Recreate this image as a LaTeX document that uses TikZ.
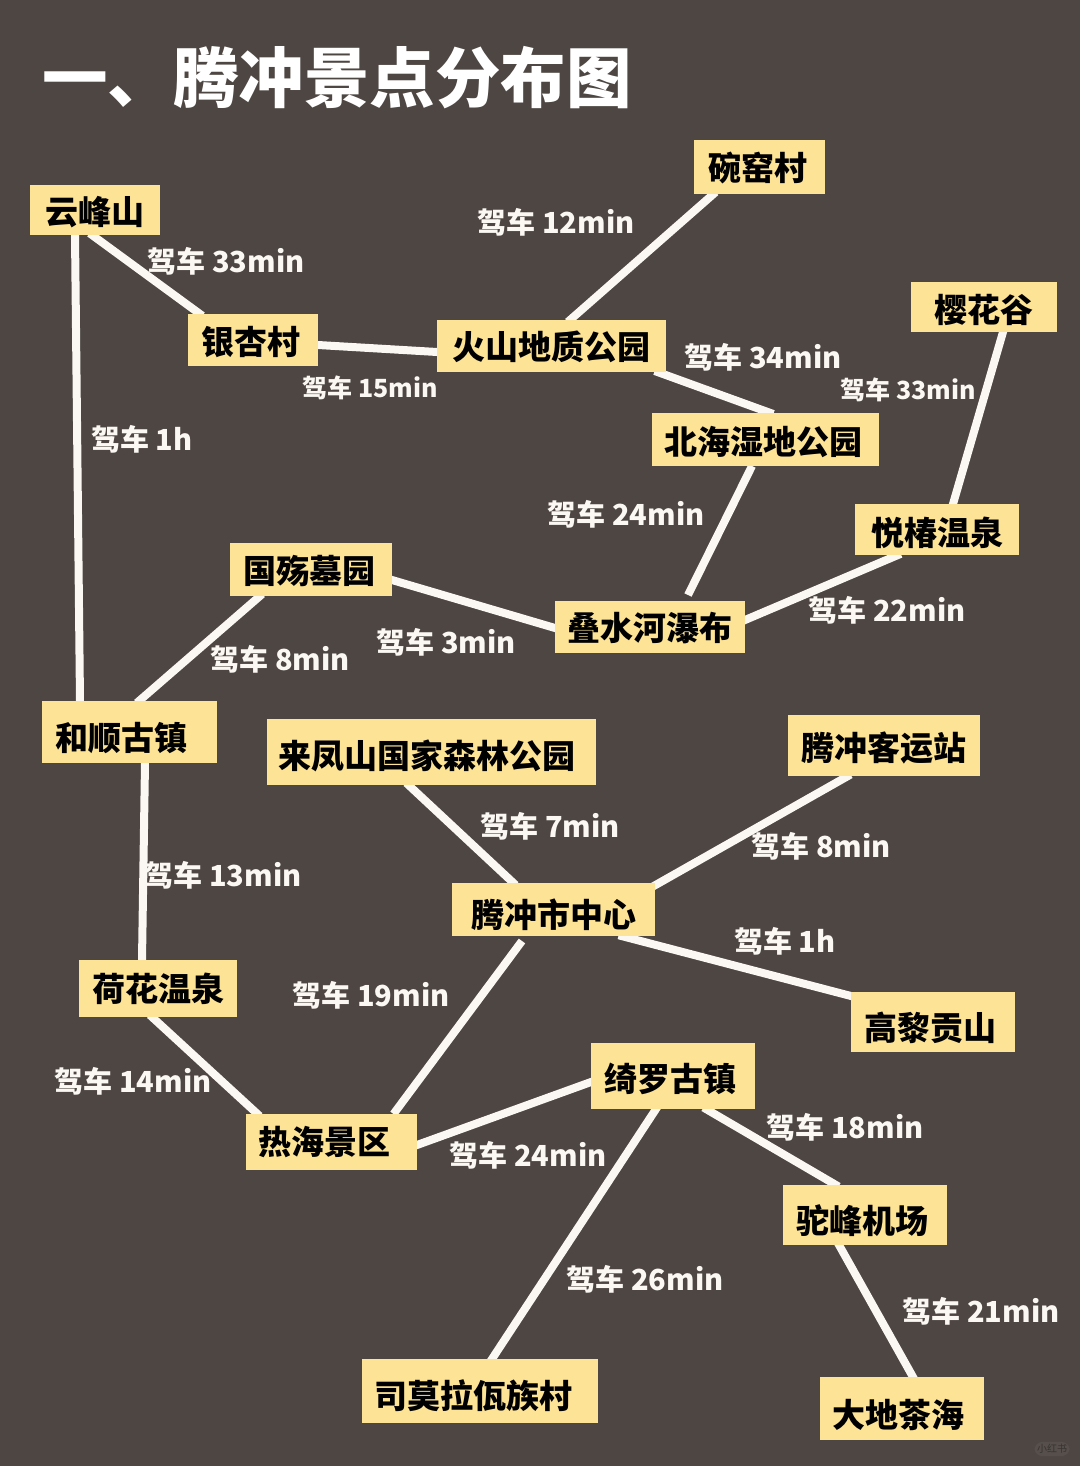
\documentclass[tikz,border=0pt]{standalone}
\usepackage{fontspec}
\setmainfont{Noto Sans CJK SC}
\usetikzlibrary{backgrounds}
\definecolor{bgc}{HTML}{4D4642}
\definecolor{boxc}{HTML}{FDE396}
\definecolor{linec}{HTML}{FBF7F2}
\tikzset{
  spot/.style={fill=boxc,draw=none,inner sep=0pt,text=black,font=\bfseries\fontsize{33}{34}\selectfont},
  lab/.style={inner sep=0pt,text=linec,font=\bfseries\fontsize{29}{30}\selectfont},
  labs/.style={inner sep=0pt,text=linec,font=\bfseries\fontsize{25}{26}\selectfont},
  titlet/.style={inner sep=0pt,anchor=west,text=white,font=\bfseries\fontsize{65.5}{68}\selectfont},
  link/.style={draw=linec,line width=8pt,shorten <=-3pt,shorten >=-3pt},
  markw/.style={inner sep=2.5pt,rounded corners=8pt,fill=white,fill opacity=0.05,text=black,text opacity=0.35,font=\fontsize{10}{11}\selectfont}
}
% name, cx, cy, w, h, dx, dy, text
\newcommand{\spotnode}[8]{\node[spot,minimum width=#4pt,minimum height=#5pt] (#1) at (#2,#3) {\pgfmathsetlengthmacro{\kx}{2*(#6)}\pgfmathsetlengthmacro{\ky}{-12.6-(#7)}\raisebox{\ky}[0pt][0pt]{\makebox[0pt]{\kern\kx\relax #8}}};}
\newcommand{\conn}[6]{\draw[link] ([shift={(#2,#3)}]#1.center) -- ([shift={(#5,#6)}]#4.center);}
\begin{document}
\begin{tikzpicture}[x=1pt,y=-1pt]
\useasboundingbox (0,0) rectangle (1080,1466);
\node[titlet] (title) at (42,78) {一、腾冲景点分布图};
\spotnode{yf}{95}{210}{130}{50}{0}{2}{云峰山}
\spotnode{wy}{759.5}{167}{131}{54}{-2}{1}{碗窑村}
\spotnode{yx}{253}{340}{130}{52}{-2}{2}{银杏村}
\spotnode{hs}{551.5}{346}{229}{52}{0}{1}{火山地质公园}
\spotnode{yh}{984}{307}{146}{50}{0}{3}{樱花谷}
\spotnode{bh}{765.5}{439.5}{227}{53}{-2}{2}{北海湿地公园}
\spotnode{yc}{937}{529.5}{164}{51}{0}{3}{悦椿温泉}
\spotnode{gs}{311}{569.5}{162}{53}{-2}{1}{国殇墓园}
\spotnode{ds}{650}{627}{190}{52}{0}{1}{叠水河瀑布}
\spotnode{hu}{129.5}{732}{175}{62}{-8.5}{6}{和顺古镇}
\spotnode{lf}{431.5}{752}{329}{66}{-4.5}{4}{来凤山国家森林公园}
\spotnode{ky}{884}{745.5}{192}{61}{0}{2}{腾冲客运站}
\spotnode{sz}{553.5}{909.5}{203}{53}{0}{5}{腾冲市中心}
\spotnode{hh}{158}{988.5}{158}{57}{0}{0}{荷花温泉}
\spotnode{gl}{933}{1022}{164}{60}{-3}{6}{高黎贡山}
\spotnode{ql}{673}{1076}{164}{66}{-3}{3}{绮罗古镇}
\spotnode{rh}{331.5}{1142}{171}{56}{-7}{0}{热海景区}
\spotnode{tf}{865}{1215}{164}{60}{-3}{6}{驼峰机场}
\spotnode{sm}{480}{1391}{236}{64}{-7}{5}{司莫拉佤族村}
\spotnode{dd}{902}{1408.5}{164}{63}{-3.5}{6}{大地茶海}
\begin{scope}[on background layer]
\fill[bgc] (0,0) rectangle (1080,1466);
\conn{yf}{-20}{25}{hu}{-49.5}{-31}
\conn{yf}{-3}{25}{yx}{-53}{-26}
\conn{yx}{65}{5}{hs}{-114.5}{6}
\conn{hs}{18.5}{-26}{wy}{-46}{27}
\conn{hs}{106}{26}{bh}{5}{-26.5}
\conn{yh}{19}{25}{yc}{16}{-25.5}
\draw[draw=linec,line width=8pt] ([shift={(-13.5,26.5)}]bh.center) -- ([shift={(38,-32)}]ds.center);
\conn{yc}{-39}{25.5}{ds}{95}{-7}
\conn{gs}{81}{10.5}{ds}{-95}{1}
\conn{gs}{-51}{26.5}{hu}{9.5}{-31}
\conn{hu}{15.5}{31}{hh}{-16}{-28.5}
\conn{lf}{-23}{33}{sz}{-40}{-26.5}
\conn{ky}{-36}{30.5}{sz}{98.5}{-22.5}
\conn{sz}{68}{26.5}{gl}{-82}{-26}
\conn{hh}{-6}{28.5}{rh}{-74}{-28}
\draw[draw=linec,line width=8pt] ([shift={(-31.5,31.5)}]sz.center) -- ([shift={(62,-28)}]rh.center);
\conn{ql}{-82}{6}{rh}{85.5}{3}
\conn{ql}{33}{33}{tf}{-29}{-30}
\conn{ql}{-17}{33}{sm}{12}{-32}
\conn{tf}{-26}{30}{dd}{11}{-31.5}
\end{scope}
\node[lab] (l1) at (556,222) {驾车 12min};
\node[lab] (l2) at (226,261) {驾车 33min};
\node[labs] (l3) at (370,388) {驾车 15min};
\node[lab] (l4) at (763,357) {驾车 34min};
\node[labs] (l5) at (908,390) {驾车 33min};
\node[lab] (l6) at (142,439) {驾车 1h};
\node[lab] (l7) at (626,514) {驾车 24min};
\node[lab] (l8) at (887,610) {驾车 22min};
\node[lab] (l9) at (280,659) {驾车 8min};
\node[lab] (l10) at (446,642) {驾车 3min};
\node[lab] (l11) at (550,826) {驾车 7min};
\node[lab] (l12) at (821,846) {驾车 8min};
\node[lab] (l13) at (223,875) {驾车 13min};
\node[lab] (l14) at (785,941) {驾车 1h};
\node[lab] (l15) at (371,995) {驾车 19min};
\node[lab] (l16) at (133,1081) {驾车 14min};
\node[lab] (l17) at (528,1155) {驾车 24min};
\node[lab] (l18) at (845,1127) {驾车 18min};
\node[lab] (l19) at (645,1279) {驾车 26min};
\node[lab] (l20) at (981,1311) {驾车 21min};
\node[markw] (wm) at (1052,1449) {小红书};
\end{tikzpicture}
\end{document}
